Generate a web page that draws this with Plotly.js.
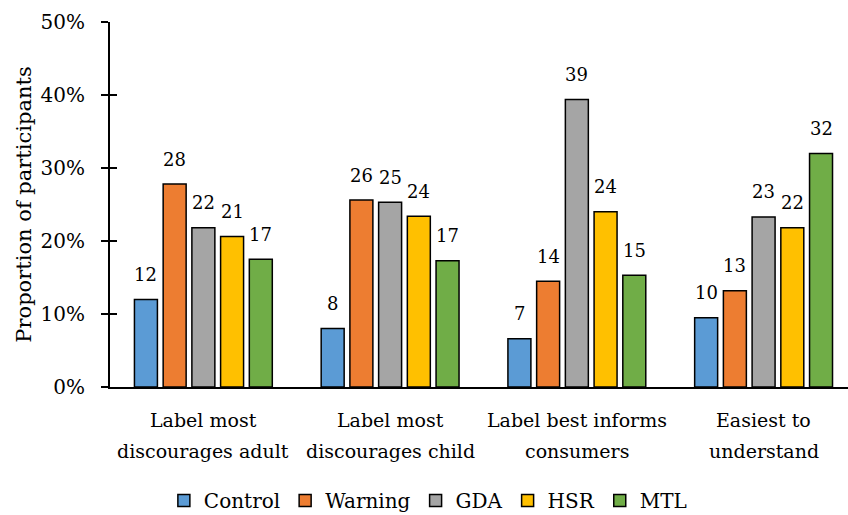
<!DOCTYPE html>
<html>
<head>
<meta charset="utf-8">
<script src="https://cdn.plot.ly/plotly-3.0.1.min.js"></script>
<style>html,body{margin:0;padding:0;background:#fff;}#chart{width:848px;height:515px;}</style>
</head>
<body>
<div id="chart"></div>
<script>
const categories = ["Label most<br>discourages adult", "Label most<br>discourages child", "Label best informs<br>consumers", "Easiest to<br>understand"];
const seriesNames = ["Control", "Warning", "GDA", "HSR", "MTL"];
const control = [12.0, 8.0, 6.6, 9.5];
const warning = [27.8, 25.6, 14.5, 13.2];
const gda = [21.8, 25.3, 39.4, 23.3];
const hsr = [20.6, 23.4, 24.0, 21.8];
const mtl = [17.5, 17.3, 15.3, 32.0];
const controlLabels = ["12", "8", "7", "10"];
const warningLabels = ["28", "26", "14", "13"];
const gdaLabels = ["22", "25", "39", "23"];
const hsrLabels = ["21", "24", "24", "22"];
const mtlLabels = ["17", "17", "15", "32"];
const yTicks = [0, 10, 20, 30, 40, 50];
const colors = ["#5B9BD5", "#ED7D31", "#A5A5A5", "#FFC000", "#70AD47"];

const FONT = "'DejaVu Serif', serif";
const allValues = [control, warning, gda, hsr, mtl];
const allLabels = [controlLabels, warningLabels, gdaLabels, hsrLabels, mtlLabels];
const xIdx = categories.map((c, i) => i);
const bargap = 0.231;
const nS = seriesNames.length;
const slot = (1 - bargap) / nS;

const traces = seriesNames.map((name, s) => ({
  type: "bar",
  name: name,
  x: xIdx,
  y: allValues[s],
  marker: {color: colors[s], line: {color: "#000", width: 1.5}},
  hoverinfo: "none"
}));

const annotations = [];
allValues.forEach((vals, s) => {
  vals.forEach((v, i) => {
    annotations.push({
      x: i + (s - (nS - 1) / 2) * slot, y: v, xref: "x", yref: "y",
      text: allLabels[s][i], showarrow: false, yanchor: "middle", yshift: 25,
      font: {family: FONT, size: 18, color: "#000"}
    });
  });
});
categories.forEach((c, i) => {
  c.split("<br>").forEach((line, k) => {
    annotations.push({
      x: i, y: -0.091 - k * 0.084, xref: "x", yref: "paper",
      text: line, showarrow: false, yanchor: "middle",
      font: {family: FONT, size: 19, color: "#000"}
    });
  });
});

const layout = {
  width: 848, height: 515,
  margin: {l: 110, r: 0, t: 22, b: 128, autoexpand: false},
  paper_bgcolor: "#fff", plot_bgcolor: "#fff",
  font: {family: FONT, size: 18, color: "#000"},
  barmode: "group", bargap: bargap, bargroupgap: 0.2,
  showlegend: true,
  legend: {orientation: "h", x: 0.073, xanchor: "left", y: -0.311, yanchor: "middle",
           font: {family: FONT, size: 20, color: "#000"}, traceorder: "normal"},
  xaxis: {type: "linear", range: [-0.5, 3.452], showline: true, linecolor: "#000", linewidth: 2,
          ticks: "", showticklabels: false, showgrid: false, zeroline: false, fixedrange: true},
  yaxis: {range: [0, 50], tickvals: yTicks, ticktext: yTicks.map(t => t + "%"),
          showline: true, linecolor: "#000", linewidth: 2,
          ticks: "outside", ticklen: 7, tickwidth: 2, tickcolor: "#000",
          showgrid: false, zeroline: false, ticklabelstandoff: 12,
          tickfont: {family: FONT, size: 20, color: "#000"},
          title: {text: "Proportion of participants", font: {family: FONT, size: 21, color: "#000"}, standoff: 3}},
  yaxis2: {range: [0, 50], tickvals: yTicks, overlaying: "y", side: "left", anchor: "x",
           ticks: "inside", ticklen: 7, tickwidth: 2, tickcolor: "#000",
           showticklabels: false, showline: false, showgrid: false, zeroline: false},
  annotations: annotations
};
traces.push({type: "scatter", x: [0], y: [0], yaxis: "y2", mode: "markers",
             marker: {opacity: 0}, showlegend: false, hoverinfo: "none"});

Plotly.newPlot("chart", traces, layout, {staticPlot: true});
</script>
</body>
</html>
